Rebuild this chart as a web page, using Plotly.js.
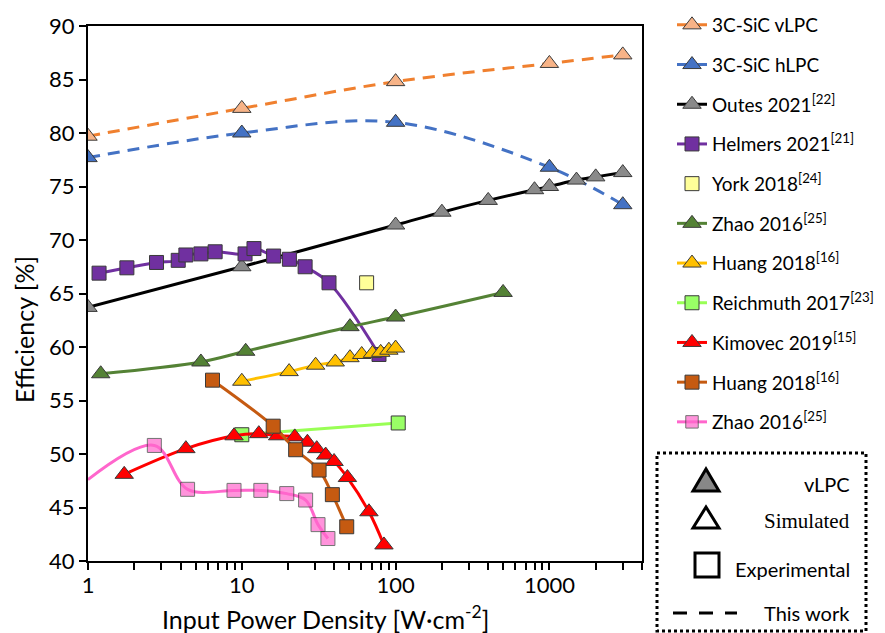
<!DOCTYPE html>
<html><head><meta charset="utf-8">
<script src="https://cdn.plot.ly/plotly-3.0.1.min.js"></script>
<style>html,body{margin:0;padding:0;background:#fff}</style>
</head><body><div id="chart" style="width:885px;height:633px"></div>
<script>
// ---- data ----
const vlpcX = [1, 10, 100, 1000, 3000];
const vlpcY = [79.7, 82.3, 84.8, 86.5, 87.3];
const hlpcX = [1, 10, 100, 1000, 3000];
const hlpcY = [77.7, 80.0, 81.0, 76.8, 73.3];
const outesX = [1, 10, 100, 200, 400, 800, 1000, 1500, 2000, 3000];
const outesY = [63.7, 67.5, 71.4, 72.6, 73.7, 74.7, 75.0, 75.6, 75.9, 76.3];
const helmersX = [1.18, 1.79, 2.79, 3.86, 4.33, 5.42, 6.71, 10.5, 12.0, 16.1, 20.4, 25.8, 36.9, 78];
const helmersY = [66.9, 67.4, 67.9, 68.1, 68.6, 68.7, 68.9, 68.7, 69.2, 68.5, 68.2, 67.5, 66.0, 59.3];
const yorkX = [64.8];
const yorkY = [66.0];
const zhaoGX = [1.21, 5.42, 10.6, 50.5, 100, 500];
const zhaoGY = [57.5, 58.6, 59.6, 61.9, 62.8, 65.1];
const huangTX = [10, 20.3, 30.2, 40.5, 50.5, 60.2, 70.7, 80, 90.4, 100];
const huangTY = [56.8, 57.7, 58.3, 58.6, 59.0, 59.3, 59.4, 59.5, 59.7, 59.9];
const reichX = [10, 104];
const reichY = [51.8, 52.9];
const kimX = [1.72, 4.33, 8.9, 12.9, 17.1, 22.1, 26.7, 30.7, 35.1, 39.8, 48.6, 67.1, 84];
const kimY = [48.1, 50.5, 51.7, 51.9, 51.7, 51.6, 51.1, 50.5, 49.9, 49.3, 47.8, 44.6, 41.5];
const huangSX = [6.45, 16, 22.4, 31.8, 38.8, 48.1];
const huangSY = [56.9, 52.6, 50.4, 48.5, 46.2, 43.2];
const zhaoPX = [1, 2.7, 4.44, 8.9, 13.3, 19.6, 26.0, 31.3, 36.3];
const zhaoPY = [47.6, 50.8, 46.7, 46.6, 46.6, 46.3, 45.7, 43.4, 42.1];
const names = ['3C-SiC vLPC', '3C-SiC hLPC', 'Outes 2021<sup>[22]</sup>', 'Helmers 2021<sup>[21]</sup>',
  'York 2018<sup>[24]</sup>', 'Zhao 2016<sup>[25]</sup>', 'Huang 2018<sup>[16]</sup>',
  'Reichmuth 2017<sup>[23]</sup>', 'Kimovec 2019<sup>[15]</sup>', 'Huang 2018<sup>[16]</sup>', 'Zhao 2016<sup>[25]</sup>'];
const xTicks = [1, 10, 100, 1000];
const xTickText = ['1', '10', '100', '1000'];
const xTitle = 'Input Power Density [W·cm<sup>-2</sup>]';
const yTitle = 'Efficiency [%]';

// ---- styling ----
const FONT = 'Lato, "Noto Sans", sans-serif';
const OL = {color: '#3a3a3a', width: 1};
function tr(i, x, y, lineColor, dash, symbol, fill, size, mode) {
  return {
    type: 'scatter', x: x, y: y, name: names[i], legendgroup: 'g' + i,
    mode: mode || 'lines+markers',
    line: {color: lineColor, width: 3, dash: dash || 'solid', shape: 'spline', smoothing: 1},
    marker: {symbol: symbol, color: fill, size: size, line: OL}
  };
}
const TRI = 16, SQ = 14;
const data = [
  tr(0, vlpcX, vlpcY, '#f0802f', '12px,8px', 'triangle-up', '#f7b387', TRI),
  tr(1, hlpcX, hlpcY, '#4472c4', '12px,8px', 'triangle-up', '#4472c4', TRI),
  tr(2, outesX, outesY, '#000000', 'solid', 'triangle-up', '#8a8a8a', TRI),
  tr(3, helmersX, helmersY, '#7030a0', 'solid', 'square', '#7030a0', SQ),
  tr(4, yorkX, yorkY, '#ffff99', 'solid', 'square', '#ffff99', SQ, 'markers'),
  tr(5, zhaoGX, zhaoGY, '#548235', 'solid', 'triangle-up', '#548235', TRI),
  tr(6, huangTX, huangTY, '#ffc000', 'solid', 'triangle-up', '#ffc000', TRI),
  tr(7, reichX, reichY, '#99ff55', 'solid', 'square', '#99ff66', SQ),
  tr(8, kimX, kimY, '#ff0000', 'solid', 'triangle-up', '#ff0000', TRI),
  tr(9, huangSX, huangSY, '#c55a11', 'solid', 'square', '#c55a11', SQ),
  tr(10, zhaoPX, zhaoPY, '#ff66cc', 'solid', 'square', '#ff66cc', SQ)
];
data[10].marker.size = zhaoPX.map((v, i) => i === 0 ? 0 : SQ);

// pixel helpers for the key box and titles (paper coords)
const L = 88, R = 642, T = 26, B = 561;
const px = v => (v - L) / (R - L);
const py = v => (B - v) / (B - T);

const shapes = [
  {type: 'rect', xref: 'paper', yref: 'paper', x0: px(657), x1: px(866), y0: py(453), y1: py(631),
   line: {color: '#000', width: 3, dash: 'dot'}},
  {type: 'path', xref: 'paper', yref: 'paper',
   path: `M${px(693)},${py(491)} L${px(719)},${py(491)} L${px(706)},${py(469)} Z`,
   fillcolor: '#888', line: {color: '#000', width: 3}},
  {type: 'path', xref: 'paper', yref: 'paper',
   path: `M${px(693)},${py(528)} L${px(719)},${py(528)} L${px(706)},${py(507)} Z`,
   fillcolor: 'rgba(0,0,0,0)', line: {color: '#000', width: 3}},
  {type: 'rect', xref: 'paper', yref: 'paper', x0: px(695), x1: px(719), y0: py(577), y1: py(553),
   line: {color: '#000', width: 3}},
  {type: 'line', xref: 'paper', yref: 'paper', x0: px(673), x1: px(737), y0: py(613), y1: py(613),
   line: {color: '#000', width: 3, dash: '14px,12px'}}
];
function ann(text, x, y, size, family, angle) {
  return {xref: 'paper', yref: 'paper', x: px(x), y: py(y), xanchor: angle ? 'center' : 'right', yanchor: 'middle',
    text: text, showarrow: false, textangle: angle || 0,
    font: {family: family || FONT, size: size, color: '#000'}};
}
const annotations = [
  ann('vLPC', 852, 484, 20), ann('Simulated', 852, 521, 21, '"Liberation Serif", "DejaVu Serif", serif'),
  ann('Experimental', 852, 569, 20), ann('This work', 852, 613, 20),
  Object.assign(ann(xTitle, 325, 617, 25), {xanchor: 'center'}),
  ann(yTitle, 24, 330, 25, FONT, -90)
];

const layout = {
  width: 885, height: 633,
  margin: {l: L, r: 885 - R, t: T, b: 633 - B, autoexpand: false},
  paper_bgcolor: '#fff', plot_bgcolor: '#fff',
  font: {family: FONT, color: '#000'},
  showlegend: true,
  legend: {x: px(672), y: py(6), xanchor: 'left', yanchor: 'top', traceorder: 'grouped',
    tracegroupgap: 12, maxheight: 620, font: {family: FONT, size: 19, color: '#000'}, bgcolor: 'rgba(0,0,0,0)'},
  xaxis: {type: 'log', range: [0, Math.log10(4000)], tickvals: xTicks, ticktext: xTickText,
    ticks: 'outside', ticklen: 7, tickwidth: 2, tickcolor: '#000', ticklabelstandoff: -3,
    minor: {ticks: 'outside', ticklen: 7, tickwidth: 2, tickcolor: '#000', dtick: 'D1', showgrid: false},
    showline: true, linecolor: '#000', linewidth: 2, mirror: true, showgrid: false, zeroline: false,
    tickfont: {size: 22, family: FONT}, automargin: false},
  yaxis: {range: [40, 90], dtick: 5, ticks: 'outside', ticklen: 7, tickwidth: 2, tickcolor: '#000',
    showline: true, linecolor: '#000', linewidth: 2, mirror: true, showgrid: false, zeroline: false,
    tickfont: {size: 22, family: FONT}, automargin: false},
  shapes: shapes, annotations: annotations
};
Plotly.newPlot('chart', data, layout, {displayModeBar: false, responsive: false});
</script></body></html>
